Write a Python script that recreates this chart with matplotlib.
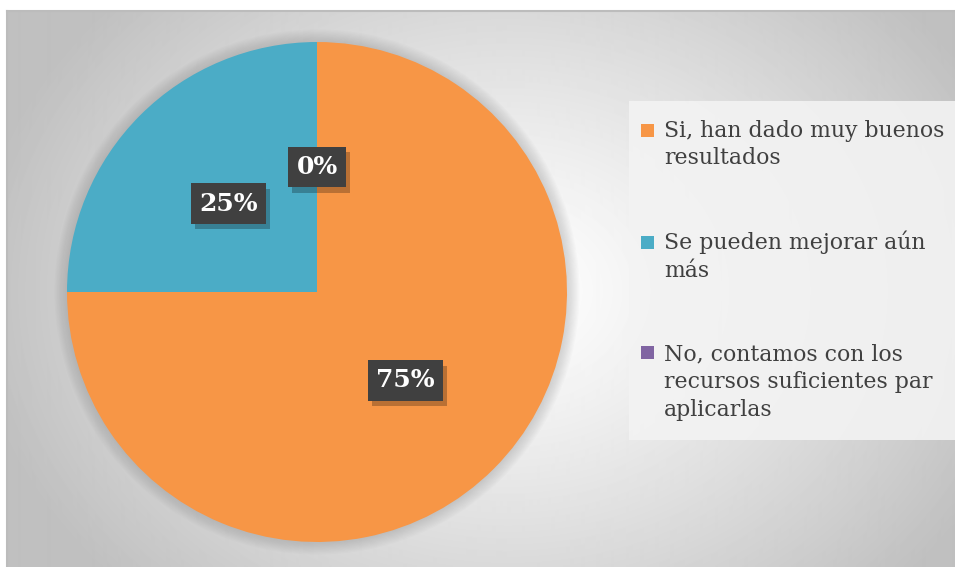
import numpy as np
import matplotlib
matplotlib.use("Agg")
import matplotlib.pyplot as plt
import matplotlib.patheffects as pe
from matplotlib.patches import Rectangle, Circle
from matplotlib.legend_handler import HandlerPatch

labels = ["Si, han dado muy buenos\nresultados",
          "Se pueden mejorar aún\nmás",
          "No, contamos con los\nrecursos suficientes par\naplicarlas"]
values = [75, 25, 0]
colors = ["#F79646", "#4BACC6", "#8064A2"]

W, H = 955, 567
fig = plt.figure(figsize=(W / 100, H / 100), dpi=100)
fig.patch.set_facecolor("white")

# background panel with radial gradient
bg = fig.add_axes([7 / W, 0, 1 - 7 / W, 1 - 11 / H])
bg.set_axis_off()
yy, xx = np.mgrid[0:556, 0:948]
cx, cy = 500, 280
d = np.sqrt(((xx - cx) / 540.0) ** 2 + ((yy - cy) / 430.0) ** 2)
d = np.clip(d, 0, 1)
shade = 1.0 - 0.25 * d ** 1.2
bg.imshow(shade, cmap="gray", vmin=0, vmax=1, aspect="auto",
          extent=[0, 1, 0, 1], interpolation="bilinear")
bg.plot([0, 0], [0, 1], color="#bcbcbc", lw=1.5, transform=bg.transAxes, clip_on=False)
bg.plot([0, 1], [1, 1], color="#bcbcbc", lw=1.5, transform=bg.transAxes, clip_on=False)

# pie axes: center (317, 292) px, radius 250 px
r = 250
ax = fig.add_axes([(317 - r) / W, (H - 292 - r) / H, 2 * r / W, 2 * r / H])
ax.set_axis_off()

# soft glow around pie
for k in range(10):
    ax.add_patch(Circle((0, 0), 1.0 + 0.005 * (10 - k), color="#808080",
                        alpha=0.03, lw=0, zorder=0, clip_on=False))

wedges, texts, autotexts = ax.pie(
    values, colors=colors, startangle=90, counterclock=False,
    autopct="%1.0f%%", pctdistance=0.5, radius=1.0,
    wedgeprops=dict(linewidth=0, clip_on=False))
ax.set_xlim(-1, 1)
ax.set_ylim(-1, 1)
ax.set_aspect("auto")

for t in autotexts:
    t.set_color("white")
    t.set_fontweight("bold")
    t.set_fontfamily("DejaVu Serif")
    t.set_fontsize(18)
    t.set_zorder(5)
    t.set_bbox(dict(boxstyle="square,pad=0.33", facecolor="#404040",
                    edgecolor="none"))
    t.get_bbox_patch().set_path_effects(
        [pe.SimplePatchShadow(offset=(3, -4), shadow_rgbFace="#000000", alpha=0.25),
         pe.Normal()])

# legend, square marker aligned with first text line
nlines = {id(w): lab.count("\n") + 1 for w, lab in zip(wedges, labels)}


def top_square(legend, orig_handle, xdescent, ydescent, width, height, fontsize):
    shift = (nlines[id(orig_handle)] - 1) / 2 * 21.8
    s = 0.6 * fontsize
    return Rectangle((-xdescent - 5, -ydescent + shift + (height - s) / 2), s, s)


leg = fig.legend(wedges, labels, loc="upper left",
                 bbox_to_anchor=(629 / W, 1 - 101 / H),
                 frameon=True, fancybox=False,
                 prop=dict(family="DejaVu Serif", size=15.8),
                 handlelength=0.6, handleheight=0.6, handletextpad=0.15,
                 labelspacing=2.8, borderpad=0.85, borderaxespad=0,
                 handler_map={w: HandlerPatch(patch_func=top_square) for w in wedges})
leg.get_frame().set_facecolor("#f3f3f3")
leg.get_frame().set_edgecolor("none")
leg.get_frame().set_alpha(0.9)
for txt in leg.get_texts():
    txt.set_color("#404040")
    txt.set_linespacing(1.34)

fig.savefig("out.png", dpi=100)
